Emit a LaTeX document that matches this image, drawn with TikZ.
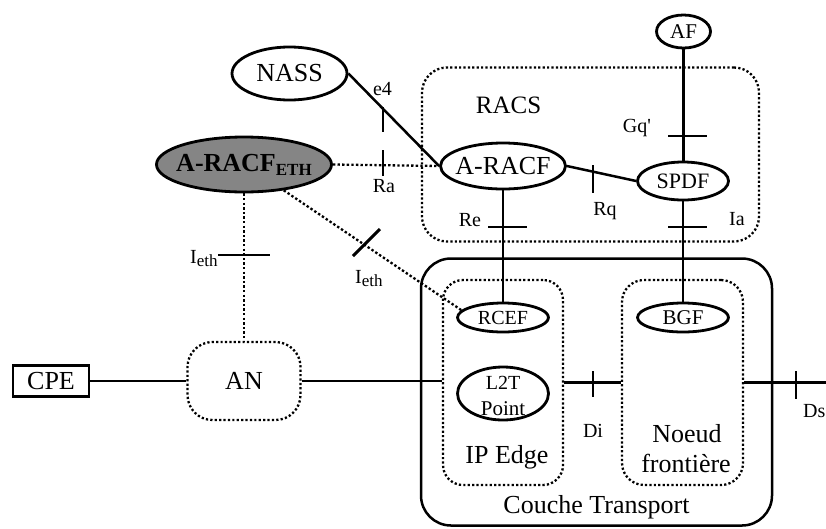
\documentclass[tikz,border=0pt]{standalone}
\usepackage{fontspec}
\setmainfont{Liberation Serif}
\usetikzlibrary{shapes.geometric}
\begin{document}
\begin{tikzpicture}[x=1pt,y=-1pt,
  ell/.style={ellipse,draw,line width=2.8pt,inner sep=0pt},
  dotbox/.style={draw,line width=2.3pt,dash pattern=on 2.2pt off 2.2pt,inner sep=0pt},
  conn/.style={line width=2.5pt},
  dotconn/.style={line width=2.3pt,dash pattern=on 2.4pt off 2.2pt},
  tickmark/.style={line width=2.9pt},
  bigtxt/.style={font=\fontsize{26}{28}\selectfont},
  lab/.style={font=\fontsize{20}{22}\selectfont,inner sep=0pt,anchor=base},
  labw/.style={font=\fontsize{20}{22}\selectfont,inner sep=0pt,anchor=base west},
  biglab/.style={font=\fontsize{26}{28}\selectfont,inner sep=0pt,anchor=base},
]
\useasboundingbox (0,0) rectangle (826,528);

% boxes
\node[dotbox,rounded corners=25pt,minimum width=337pt,minimum height=174pt] (racs) at (590.5,154.5) {};
\node[draw,line width=2.5pt,rounded corners=30pt,minimum width=351pt,minimum height=267pt,inner sep=0pt] (ct) at (596.5,392) {};
\node[dotbox,rounded corners=20pt,minimum width=120pt,minimum height=205pt] (ipedge) at (503,382.5) {};
\node[dotbox,rounded corners=22pt,minimum width=121pt,minimum height=205pt] (noeud) at (682.5,382.5) {};
\node[dotbox,rounded corners=25pt,minimum width=113pt,minimum height=78pt,bigtxt] (an) at (244,381) {\makebox[0pt]{AN}};
\node[draw,line width=2.5pt,minimum width=76pt,minimum height=31pt,inner sep=0pt,bigtxt] (cpe) at (51,381) {CPE};

% ellipses
\node[ell,minimum width=54pt,minimum height=33pt,font=\fontsize{21}{21}\selectfont] (af) at (683.5,31.5) {\makebox[0pt]{AF}};
\node[ell,minimum width=91pt,minimum height=38pt,font=\fontsize{22}{22}\selectfont] (spdf) at (683,181) {\makebox[0pt]{SPDF}};
\node[ell,minimum width=125pt,minimum height=46pt,bigtxt] (aracf) at (503,166) {\makebox[0pt]{A-RACF}};
\node[ell,minimum width=115pt,minimum height=53pt,bigtxt] (nass) at (289.5,73.5) {\makebox[0pt]{NASS}};
\node[ell,fill=black!48,minimum width=175pt,minimum height=55pt,font=\fontsize{26}{26}\selectfont\bfseries] (aeth) at (244,164.5) {\makebox[0pt]{A-RACF\raisebox{-4pt}{\fontsize{17}{17}\selectfont ETH}}};
\node[ell,minimum width=91pt,minimum height=29pt,font=\fontsize{20}{20}\selectfont] (rcef) at (503,317.5) {\makebox[0pt]{RCEF}};
\node[ell,minimum width=91pt,minimum height=29pt,font=\fontsize{21}{21}\selectfont] (bgf) at (683,317.5) {\makebox[0pt]{BGF}};
\node[ell,minimum width=91pt,minimum height=53pt] (l2t) at (503,393.5) {};
\node[lab,font=\fontsize{20}{22}\selectfont] (l2ta) at (503,389) {L2T};
\node[lab,font=\fontsize{21}{22}\selectfont] (l2tb) at (503,415) {Point};

% connectors
\draw[conn] (af.south) -- (af.south |- spdf.north);
\draw[conn] (aracf.east) -- (spdf.west);
\draw[conn] (nass.east) -- (aracf.west);
\draw[dotconn] (aeth.east) -- (aracf.west);
\draw[dotconn] (aeth.-33) -- (rcef.170);
\draw[dotconn] (aeth.south) -- (an.north);
\draw[conn] (cpe.east) -- (an.west);
\draw[conn] (an.east) -- (an.east -| ipedge.west);
\draw[conn] (aracf.south) -- (rcef.north);
\draw[conn] (spdf.south) -- (bgf.north);
\draw[conn] (ipedge.east) -- (noeud.west);
\coordinate (dsend) at (830,382.5);
\draw[conn] (noeud.east) -- (dsend);

% ticks
\draw[tickmark] (383,107) -- (383,132);
\draw[tickmark] (383,150) -- (383,176);
\draw[tickmark] (668,136) -- (707,136);
\draw[tickmark] (593,165) -- (593,193);
\draw[tickmark] (488,227) -- (527,227);
\draw[tickmark] (668,227) -- (707,227);
\draw[tickmark] (218,255) -- (270,255);
\draw[tickmark] (353,256) -- (380,229);
\draw[tickmark] (593,371) -- (593,397);
\draw[tickmark] (796,371) -- (796,399);

% labels
\node[biglab,font=\fontsize{25}{28}\selectfont] (racslab) at (508.5,113) {RACS};
\node[lab] (e4lab) at (382.5,95) {e4};
\node[lab] (ralab) at (384,192) {Ra};
\node[lab] (gqlab) at (637,132) {Gq{\XeTeXglyph\XeTeXcharglyph"27}};
\node[lab] (rqlab) at (605,215) {Rq};
\node[lab] (relab) at (470,226) {Re};
\node[lab] (ialab) at (737,225) {Ia};
\node[labw] (ieth1) at (190,263) {I\raisebox{-3.5pt}{\fontsize{17}{17}\selectfont eth}};
\node[labw] (ieth2) at (355,283) {I\raisebox{-3.5pt}{\fontsize{17}{17}\selectfont eth}};
\node[lab] (dilab) at (593,437) {Di};
\node[labw] (dslab) at (803,417) {Ds};
\node[biglab] (iplab) at (507,463) {IP Edge};
\node[biglab] (nlab1) at (687,442) {Noeud};
\node[biglab] (nlab2) at (686,472) {frontière};
\node[biglab] (ctlab) at (596.5,513) {Couche Transport};
\end{tikzpicture}
\end{document}
